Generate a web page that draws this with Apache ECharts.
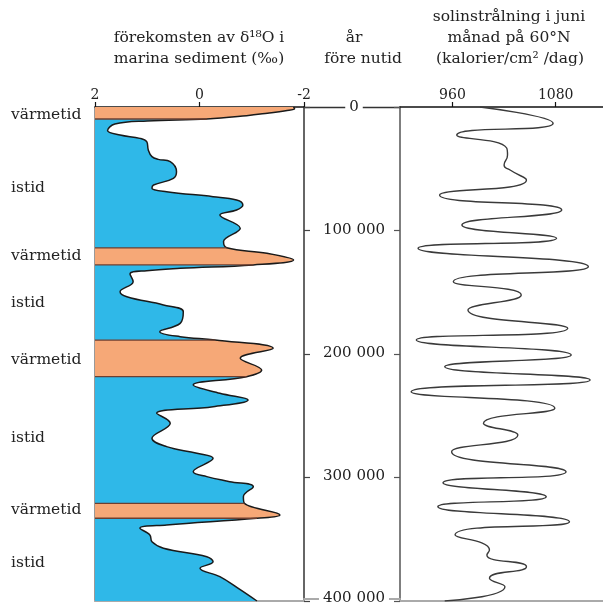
<!DOCTYPE html>
<html>
<head>
<meta charset="utf-8">
<script src="https://cdn.jsdelivr.net/npm/echarts@6/dist/echarts.min.js"></script>
<style>
html,body{margin:0;padding:0;background:#fff;}
#chart{width:603px;height:607px;}
</style>
</head>
<body>
<div id="chart"></div>
<script>
// δ18O in marine sediment (‰), by years before present
const d18oYears = [0, 1500, 3000, 5000, 7000, 9700, 11300, 13800, 19000, 22700, 25400, 28100, 34800, 40200, 42400, 44300, 52400, 57800, 63200, 65800, 68600, 72600, 75300, 79300, 83400, 87400, 98200, 109000, 114000, 118500, 123900, 127900, 130600, 132500, 135200, 141400, 149500, 153600, 160300, 165700, 175200, 181900, 186000, 188700, 195400, 203500, 213000, 218400, 225100, 231800, 237200, 242700, 248000, 256100, 268300, 275000, 280400, 284500, 295300, 299300, 303400, 307400, 315500, 320900, 330400, 333000, 338500, 341100, 346500, 352000, 357300, 364100, 368200, 373500, 380300, 390000, 400000];
const d18oValues = [-1.80, -1.82, -1.65, -1.30, -0.90, -0.14, 1.00, 1.62, 1.76, 1.52, 1.14, 1.01, 0.98, 0.91, 0.79, 0.56, 0.44, 0.50, 0.88, 0.91, 0.63, -0.26, -0.71, -0.83, -0.71, -0.39, -0.78, -0.46, -0.52, -1.29, -1.80, -1.03, 0.37, 1.01, 1.33, 1.27, 1.52, 1.39, 0.69, 0.31, 0.37, 0.76, 0.37, -0.30, -1.41, -0.78, -1.19, -0.90, 0.12, -0.39, -0.93, -0.26, 0.82, 0.56, 0.91, 0.63, 0.05, -0.26, 0.12, -0.14, -0.58, -1.03, -0.84, -0.86, -1.54, -1.10, 0.63, 1.14, 0.95, 0.91, 0.69, -0.14, -0.26, -0.01, -0.39, -0.75, -1.10];
// interglacial (värmetid) periods, years before present
const bandStarts = [0, 114000, 188700, 320900];
const bandEnds = [9700, 127900, 218400, 333000];
// June insolation at 60°N (calories/cm²/day)
const insolYears = [0, 13200, 22700, 33200, 38900, 47000, 51000, 59100, 71300, 83400, 95500, 106300, 114400, 129300, 141400, 152200, 164400, 179200, 188700, 200800, 210300, 221000, 230500, 244000, 256100, 265600, 279100, 295300, 304200, 315500, 323600, 335800, 346500, 358700, 362700, 372200, 381600, 388400, 400000];
const insolValues = [992, 1077, 965, 1023, 1024, 1020, 1027, 1046, 945, 1087, 971, 1081, 920, 1118, 961, 1040, 978, 1094, 918, 1098, 951, 1120, 912, 1079, 996, 1036, 959, 1092, 949, 1069, 943, 1096, 963, 1003, 1000, 1046, 1003, 1021, 951];
const d18oTicks = [-2, 0, 2];
const insolTicks = [960, 1080];
const sideLabels = ['värmetid', 'istid', 'värmetid', 'istid', 'värmetid', 'istid', 'värmetid', 'istid'];
const sideLabelY = [115, 188, 256, 303, 360, 438, 510, 563];

const BLUE = '#2fb8e8', ORANGE = '#f6a877';
const FONT = 'DejaVu Serif';

const d18oData = d18oYears.map((y, i) => [d18oValues[i], y]);
const insolData = insolYears.map((y, i) => [insolValues[i], y]);
function valueAt(year) {
  const i = d18oYears.indexOf(year);
  if (i >= 0) return d18oValues[i];
  for (let k = 1; k < d18oYears.length; k++) {
    if (d18oYears[k] >= year) {
      const t = (year - d18oYears[k-1]) / (d18oYears[k] - d18oYears[k-1]);
      return d18oValues[k-1] + t * (d18oValues[k] - d18oValues[k-1]);
    }
  }
  return d18oValues[d18oValues.length - 1];
}
const pieces = [];
let prev = 0;
bandStarts.forEach((s, i) => {
  if (s > prev) pieces.push({gte: prev, lt: s, color: BLUE});
  pieces.push({gte: s, lt: bandEnds[i], color: ORANGE});
  prev = bandEnds[i];
});
pieces.push({gte: prev, lte: 400000, color: BLUE});

const edgeSeries = [];
bandStarts.forEach((s, i) => {
  [s, bandEnds[i]].forEach(y => {
    if (y === 0) return;
    edgeSeries.push({
      type: 'line', xAxisIndex: 0, yAxisIndex: 0, symbol: 'none', silent: true, z: 3,
      lineStyle: {color: '#6e3f30', width: 1.3},
      data: [[2, y], [valueAt(y), y]]
    });
  });
});

const fmt = v => String(v).replace(/\B(?=(\d{3})+(?!\d))/g, ' ');
const labelStyle = {color: '#222', fontFamily: FONT, fontSize: 14};

const graphics = [];
sideLabels.forEach((t, i) => graphics.push({type: 'text', x: 11, y: sideLabelY[i],
  style: {text: t, font: '15.5px ' + FONT, fill: '#222', textVerticalAlign: 'middle'}}));
const titles = [
  ['förekomsten av δ¹⁸O i', 199, 38], ['marina sediment (‰)', 199, 59],
  ['år', 354, 38], ['före nutid', 363, 59],
  ['solinstrålning i juni', 509, 17], ['månad på 60°N', 509, 38], ['(kalorier/cm² /dag)', 510, 59]
];
titles.forEach(([t, x, y]) => graphics.push({type: 'text', x: x, y: y,
  style: {text: t, font: '15.5px ' + FONT, fill: '#222', textAlign: 'center', textVerticalAlign: 'middle'}}));

const hidden = {show: false};
function bottomLine() { return {onZero: false, lineStyle: {color: '#aaa', width: 2}}; }
const option = {
  animation: false,
  backgroundColor: '#fff',
  grid: [
    {left: 95, top: 107, width: 209, height: 494},
    {left: 400, top: 107, width: 203, height: 494},
    {left: 304, top: 107, width: 96, height: 494}
  ],
  xAxis: [
    {gridIndex: 0, type: 'value', min: -2, max: 2, interval: 2, inverse: true, position: 'top',
      axisLine: {onZero: false, lineStyle: {color: '#111', width: 1.5}},
      axisTick: {show: true, length: 5, lineStyle: {color: '#111', width: 1.2}},
      axisLabel: Object.assign({margin: 5, customValues: d18oTicks, formatter: v => String(v)}, labelStyle),
      splitLine: hidden},
    {gridIndex: 1, type: 'value', min: 899, max: 1135, position: 'top',
      axisLine: {onZero: false, lineStyle: {color: '#111', width: 1.5}},
      axisTick: {show: true, length: 5, customValues: insolTicks, lineStyle: {color: '#111', width: 1.2}},
      axisLabel: Object.assign({margin: 5, customValues: insolTicks, formatter: v => String(v)}, labelStyle),
      splitLine: hidden},
    {gridIndex: 2, type: 'value', min: 0, max: 1, position: 'top',
      axisLine: {onZero: false, lineStyle: {color: '#333', width: 1.3}}, axisTick: hidden, axisLabel: hidden, splitLine: hidden},
    {gridIndex: 0, type: 'value', min: -2, max: 2, position: 'bottom',
      axisLine: bottomLine(), axisTick: hidden, axisLabel: hidden, splitLine: hidden},
    {gridIndex: 1, type: 'value', min: 899, max: 1135, position: 'bottom',
      axisLine: bottomLine(), axisTick: hidden, axisLabel: hidden, splitLine: hidden},
    {gridIndex: 2, type: 'value', min: 0, max: 1, position: 'bottom',
      axisLine: bottomLine(), axisTick: hidden, axisLabel: hidden, splitLine: hidden}
  ],
  yAxis: [
    {gridIndex: 0, type: 'time', min: 0, max: 400000, inverse: true, position: 'left',
      axisLine: {show: true, onZero: false, lineStyle: {color: '#777', width: 1.5}}, axisTick: hidden, axisLabel: hidden, splitLine: hidden},
    {gridIndex: 0, type: 'value', min: 0, max: 400000, interval: 100000, inverse: true, position: 'right',
      axisLine: {show: true, onZero: false, lineStyle: {color: '#333', width: 1.5}},
      axisTick: {show: true, length: 6, lineStyle: {color: '#444', width: 1.2}}, axisLabel: hidden, splitLine: hidden},
    {gridIndex: 1, type: 'value', min: 0, max: 400000, interval: 100000, inverse: true, position: 'left',
      axisLine: {show: true, onZero: false, lineStyle: {color: '#555', width: 1.5}},
      axisTick: {show: true, length: 6, lineStyle: {color: '#555', width: 1.2}}, axisLabel: hidden, splitLine: hidden},
    {gridIndex: 2, type: 'value', min: 0, max: 400000, interval: 100000, inverse: true, position: 'left', z: 10,
      axisLine: {show: false, onZero: false}, axisTick: hidden, splitLine: hidden,
      axisLabel: Object.assign({margin: -50, align: 'center', formatter: fmt, backgroundColor: '#fff', padding: [1, 4]}, labelStyle, {fontSize: 15})}
  ],
  visualMap: [{type: 'piecewise', show: false, seriesIndex: 0, dimension: 1, pieces: pieces}],
  series: [
    {type: 'line', name: 'δ18O', xAxisIndex: 0, yAxisIndex: 0, data: d18oData, symbol: 'none', smooth: 0.4,
      lineStyle: {color: '#1a1a1a', width: 1.5}, areaStyle: {opacity: 1, origin: 'end'}, z: 2},
    {type: 'line', name: 'insolation', xAxisIndex: 1, yAxisIndex: 2, data: insolData, symbol: 'none', smooth: 0.6,
      lineStyle: {color: '#3a3a3a', width: 1.4}, z: 2}
  ].concat(edgeSeries),
  graphic: graphics
};
const chart = echarts.init(document.getElementById('chart'), null, {renderer: 'canvas'});
chart.setOption(option);
</script>
</body>
</html>
